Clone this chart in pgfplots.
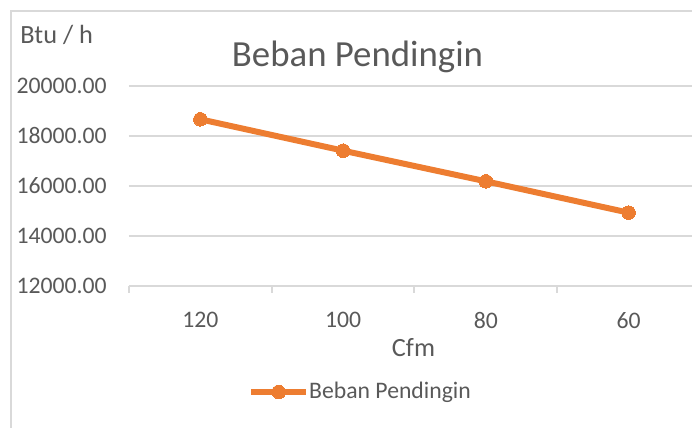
\documentclass[border=0pt]{standalone}
\usepackage{pgfplots}
\pgfplotsset{compat=1.18}
\usepackage{fontspec}
\setmainfont{Carlito}

\definecolor{txtgray}{HTML}{595959}
\definecolor{gridgray}{HTML}{D9D9D9}
\definecolor{xlorange}{HTML}{ED7D31}

\newcommand{\ticksize}{\fontsize{11.85}{14}\selectfont}
\newcommand{\labsize}{\fontsize{13.15}{15}\selectfont}
\newcommand{\titsize}{\fontsize{18.4}{21}\selectfont}

\begin{document}
\begin{tikzpicture}
\clip (0,0) rectangle (346pt,214pt);
% chart frame (cropped on right and bottom)
\draw[gridgray, line width=0.8pt] (5.5pt,-1pt) -- (5.5pt,208.5pt) -- (350pt,208.5pt);

\begin{axis}[
    scale only axis,
    width=285.5pt, height=100pt,
    at={(64.5pt,71pt)}, anchor=south west,
    xmin=-0.5, xmax=3.5,
    ymin=12000, ymax=20000,
    xtick={0,1,2,3},
    xticklabels={120,100,80,60},
    ytick={12000,14000,16000,18000,20000},
    scaled y ticks=false,
    axis x line*=bottom, axis y line*=left,
    axis line style={draw=none},
    major tick length=0pt,
    ymajorgrids,
    grid style={gridgray, line width=1pt},
    extra x ticks={-0.5,0.5,1.5,2.5,3.5},
    extra x tick labels={},
    extra x tick style={major tick length=3.5pt, tick align=outside,
        tick style={gridgray, line width=1pt}, grid=none},
    /pgf/number format/assume math mode=true,
    yticklabel={\pgfmathprintnumber[fixed, fixed zerofill, precision=2, 1000 sep={}]{\tick}},
    yticklabel style={inner sep=0pt, xshift=-11pt, font=\ticksize, text=txtgray},
    xticklabel style={inner sep=0pt, yshift=-13pt, font=\ticksize, text=txtgray},
    legend style={draw=none, fill=none, inner sep=0pt, outer sep=0pt,
        at={(axis description cs:0.4037,-0.53)}, anchor=center,
        nodes={inner sep=0pt, text=txtgray, font=\ticksize}},
    legend cell align=left,
    legend image code/.code={
        \draw[mark repeat=2, mark phase=2] plot coordinates {(0pt,0pt) (13.75pt,0pt) (27.5pt,0pt)};
    },
]
\addplot[xlorange, line width=3pt, mark=*, mark size=3.4pt,
    mark options={fill=xlorange, draw=xlorange, line width=0pt}]
    coordinates {(0,18668) (1,17413) (2,16187) (3,14933)};
\addlegendentry{Beban Pendingin}
\end{axis}

\node[anchor=base west, inner sep=0pt, text=txtgray, font=\labsize] at (10pt,192.35pt) {Btu / h};
\node[anchor=base, inner sep=0pt, text=txtgray, font=\titsize] at (178.75pt,180.65pt) {Beban Pendingin};
\node[anchor=base, inner sep=0pt, text=txtgray, font=\labsize] at (206.75pt,35.65pt) {Cfm};
\end{tikzpicture}
\end{document}
